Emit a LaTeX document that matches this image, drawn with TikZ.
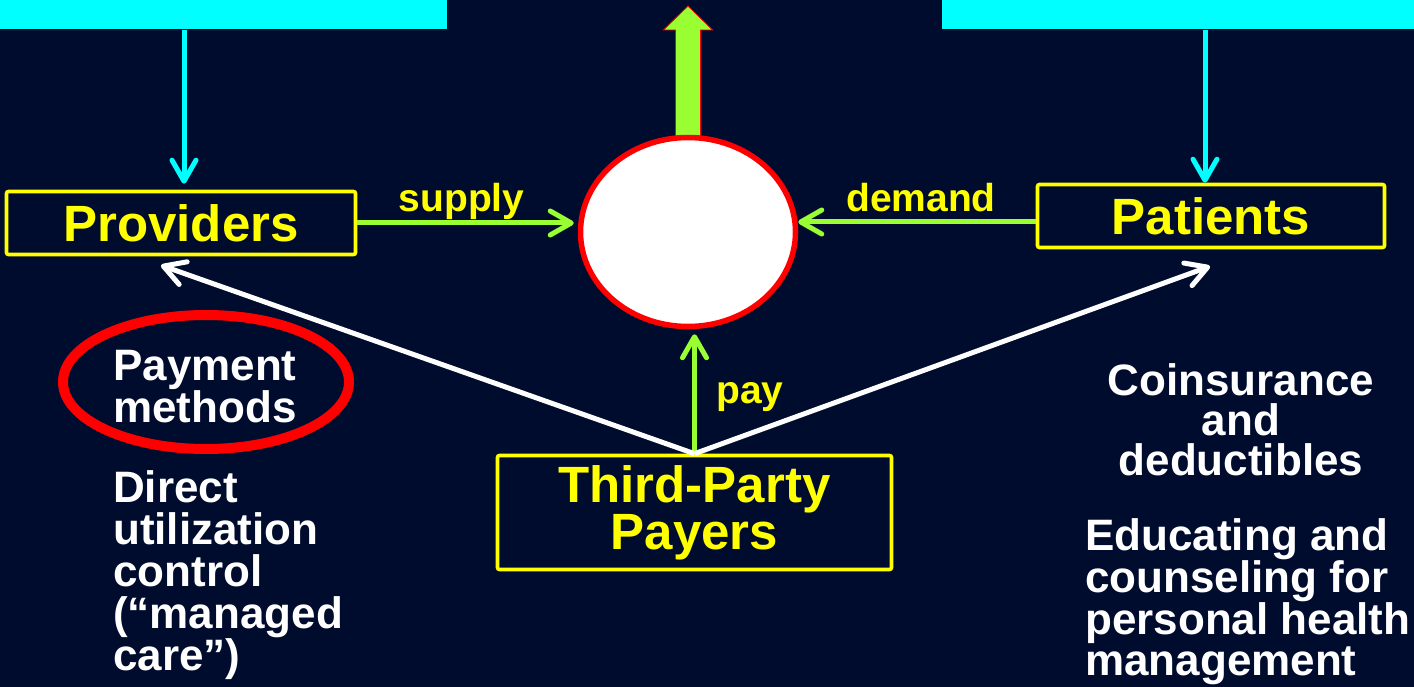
\documentclass[tikz,border=0pt]{standalone}
\usepackage{fontspec}
\setmainfont{Liberation Sans}
\usetikzlibrary{shapes.geometric,arrows.meta,positioning,calc}

\definecolor{navy}{RGB}{0,12,46}
\definecolor{lime}{RGB}{153,255,51}
\definecolor{aqua}{RGB}{0,255,255}
\definecolor{gold}{RGB}{255,255,0}

\begin{document}
\begin{tikzpicture}[x=1pt, y=-1pt, >={Straight Barb[length=21pt,width=24pt,round]}]
	\tikzset{
		party/.style={rectangle, rounded corners=2pt, draw=gold, line width=3.6pt, text=gold, align=center, inner sep=0pt, font=\fontsize{51}{47}\selectfont\bfseries},
		market/.style={ellipse, draw=red, line width=5.5pt, fill=white, minimum width=215pt, minimum height=189pt},
		banner/.style={rectangle, fill=aqua, draw=black, line width=0.8pt, anchor=north west, minimum height=31pt, inner sep=0pt},
		outflow/.style={fill=lime, draw=red, line width=0.8pt},
		flow/.style={lime, line width=5pt, ->},
		feed/.style={aqua, line width=5pt, ->},
		tie/.style={white, line width=5pt, ->},
		tag/.style={text=gold, font=\fontsize{39}{39}\selectfont\bfseries},
		note/.style={text=white, inner sep=0pt, font=\fontsize{44}{42}\selectfont\bfseries},
		ring/.style={draw=red, line width=10pt},
	}
	\useasboundingbox (0,0) rectangle (1414,687);
	\fill[navy] (0,0) rectangle (1414,687);

	% bars along the top edge
	\node[banner, minimum width=449pt] (leftbar) at (-2,-2) {};
	\node[banner, minimum width=480pt] (rightbar) at (941,-2) {};

	% the market in the middle, with its output arrow
	\coordinate (mid) at (688,232);
	\filldraw[outflow] ($(mid)+(-12.5,-95)$) -- ++(0,-107) -- ++(-12,0) -- ++(24.5,-24) -- ++(24.5,24) -- ++(-12,0) -- ++(0,107) -- cycle;
	\node[market] (core) at (mid) {};

	\node[party, minimum width=349pt, minimum height=63pt] (prov) at (181,223) {Providers};
	\node[party, minimum width=347pt, minimum height=63pt] (pat) at (1211,216) {Patients};
	\node[party, minimum width=394pt, minimum height=114pt] (tpp) at (694.5,512.5) {Third-Party\\Payers};

	% side notes
	\draw[ring] (206,382) ellipse [x radius=143pt, y radius=67pt];
	\node[note, anchor=north west, align=left] (paym) at (113,350) {Payment\\methods};
	\node[note, anchor=north west, align=left] (direct) at (113,470) {Direct\\utilization\\control\\(“managed\\care”)};
	\node[note, anchor=north, align=center, font=\fontsize{44}{40}\selectfont\bfseries] (coins) at (1241,363) {Coinsurance\\and\\deductibles};
	\node[note, anchor=north west, align=left, font=\fontsize{44}{41}\selectfont\bfseries] (educ) at (1085,518) {Educating and\\counseling for\\personal health\\management};

	%draw arrows
	\coordinate (dm) at ([yshift=-6pt]pat.west);
	\draw[feed, shorten >=6pt] ($(leftbar.south -| prov.north)+(3,0)$) -- ($(prov.north)+(3,0)$);
	\draw[feed] ($(rightbar.south -| pat.north)+(-6,0)$) -- ($(pat.north)+(-6,0)$);
	\draw[flow, shorten >=4pt] (prov.east) -- node[tag, above, inner sep=1pt, xshift=-6pt] {supply} (core.west |- prov.east);
	\draw[flow] (dm) -- node[tag, above, yshift=4pt, xshift=4pt] {demand} (core.east |- dm);
	\draw[flow, shorten >=5pt] (tpp.north) -- node[tag, anchor=west, xshift=16pt, yshift=-6pt] {pay} (core.south -| tpp.north);
	\draw[tie] (tpp.north) -- ([xshift=-20pt,yshift=-9pt]prov.south);
	\draw[tie] (tpp.north) -- ([xshift=-1pt,yshift=-17pt]pat.south);
\end{tikzpicture}
\end{document}
